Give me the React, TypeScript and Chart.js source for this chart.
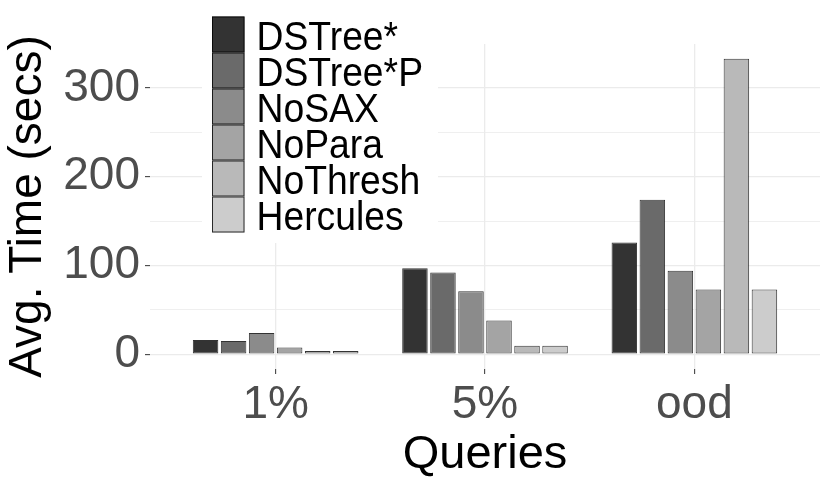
import { useEffect, useRef } from 'react';
import { Chart, registerables } from 'chart.js';

Chart.register(...registerables);

const categories = ['1%', '5%', 'ood'];
const methods = ['DSTree*', 'DSTree*P', 'NoSAX', 'NoPara', 'NoThresh', 'Hercules'];
const fills = ['#333333', '#6a6a6a', '#8b8b8b', '#a4a4a4', '#b9b9b9', '#cccccc'];

const dstree = [16, 97, 126];
const dstreeP = [15, 92, 174];
const noSax = [24, 71, 94];
const noPara = [7.5, 38, 73];
const noThresh = [3.5, 9.5, 333];
const hercules = [3.5, 9.5, 73];
const series = [dstree, dstreeP, noSax, noPara, noThresh, hercules];

const yTicks = [0, 50, 100, 150, 200, 250, 300];
const FONT = "'Liberation Sans', Arial, sans-serif";

// legend sits inside the panel, top-left, like ggplot's legend.position
const legendBox = {
  id: 'legendBox',
  afterDraw(chart: Chart) {
    const { ctx } = chart;
    const keyX = 212;
    const keyY = 16.5;
    const keyW = 32.5;
    const keyH = 36;
    ctx.save();
    ctx.fillStyle = '#ffffff';
    ctx.fillRect(202, 6, 236, 237);
    ctx.font = `37.3px ${FONT}`;
    ctx.textBaseline = 'alphabetic';
    ctx.textAlign = 'left';
    chart.data.datasets.forEach((ds, i) => {
      const y = keyY + i * keyH;
      ctx.fillStyle = fills[i];
      ctx.fillRect(keyX, y, keyW, keyH);
      ctx.strokeStyle = 'rgba(0,0,0,0.8)';
      ctx.lineWidth = 1;
      ctx.strokeRect(keyX + 0.5, y + 0.5, keyW - 1, keyH - 1);
      ctx.save();
      ctx.translate(256.5, y + 33.5);
      ctx.scale(1, 1.1);
      ctx.fillStyle = '#000000';
      ctx.fillText(String(ds.label), 0, 0);
      ctx.restore();
    });
    ctx.restore();
  },
};

export default function App() {
  const canvasRef = useRef<HTMLCanvasElement | null>(null);
  const chartRef = useRef<Chart | null>(null);

  useEffect(() => {
    const ctx = canvasRef.current?.getContext('2d');
    if (!ctx) return;
    if (chartRef.current) chartRef.current.destroy();

    chartRef.current = new Chart(ctx, {
      type: 'bar',
      data: {
        datasets: methods.map((m, i) => ({
          label: m,
          data: series[i].map((v, j) => ({ x: j + 1, y: v })),
          backgroundColor: fills[i],
          borderColor: 'rgba(0,0,0,0.8)',
          borderWidth: 1,
          borderSkipped: false,
          categoryPercentage: 0.803,
          barPercentage: 0.91,
        })),
      },
      options: {
        animation: false,
        responsive: true,
        maintainAspectRatio: false,
        layout: { padding: { top: 44, right: 10, left: 0, bottom: 0 } },
        plugins: {
          legend: { display: false },
          tooltip: { enabled: false },
        },
        scales: {
          x: {
            type: 'linear',
            min: 0.4,
            max: 3.6,
            offset: false,
            afterBuildTicks: (scale) => {
              scale.ticks = categories.map((_, i) => ({ value: i + 1 }));
            },
            afterFit: (scale) => {
              scale.height = 116;
            },
            border: { display: false },
            grid: {
              offset: false,
              color: '#ebebeb',
              lineWidth: 1.3,
              tickColor: '#333333',
              tickWidth: 1,
              tickLength: 5,
            },
            ticks: {
              color: '#4d4d4d',
              font: { family: FONT, size: 46 },
              padding: 4,
              maxRotation: 0,
              autoSkip: false,
              callback: (v) => categories[Number(v) - 1] ?? '',
            },
            title: {
              display: true,
              text: 'Queries',
              color: '#000000',
              font: { family: FONT, size: 47 },
              padding: { top: 0, bottom: 2 },
            },
          },
          y: {
            min: -16.65,
            max: 349.65,
            afterBuildTicks: (scale) => {
              scale.ticks = yTicks.map((v) => ({ value: v }));
            },
            afterFit: (scale) => {
              scale.width = 150;
            },
            border: { display: false },
            grid: {
              color: '#ebebeb',
              lineWidth: (c) => (c.tick && c.tick.value % 100 === 0 ? 1.3 : 0.8),
              tickColor: (c) => (c.tick && c.tick.value % 100 === 0 ? '#333333' : 'rgba(0,0,0,0)'),
              tickWidth: 1,
              tickLength: 5,
            },
            ticks: {
              color: '#4d4d4d',
              font: { family: FONT, size: 46 },
              padding: 5,
              autoSkip: false,
              callback: (v) => (Number(v) % 100 === 0 ? String(v) : ''),
            },
            title: {
              display: true,
              text: 'Avg. Time (secs)',
              color: '#000000',
              font: { family: FONT, size: 46 },
              padding: { top: 1, bottom: 0 },
            },
          },
        },
      },
      plugins: [legendBox],
    });

    return () => {
      if (chartRef.current) chartRef.current.destroy();
      chartRef.current = null;
    };
  }, []);

  return (
    <div style={{ position: 'absolute', left: 0, top: 0, width: 830, height: 485, background: '#ffffff' }}>
      <canvas ref={canvasRef} />
    </div>
  );
}
